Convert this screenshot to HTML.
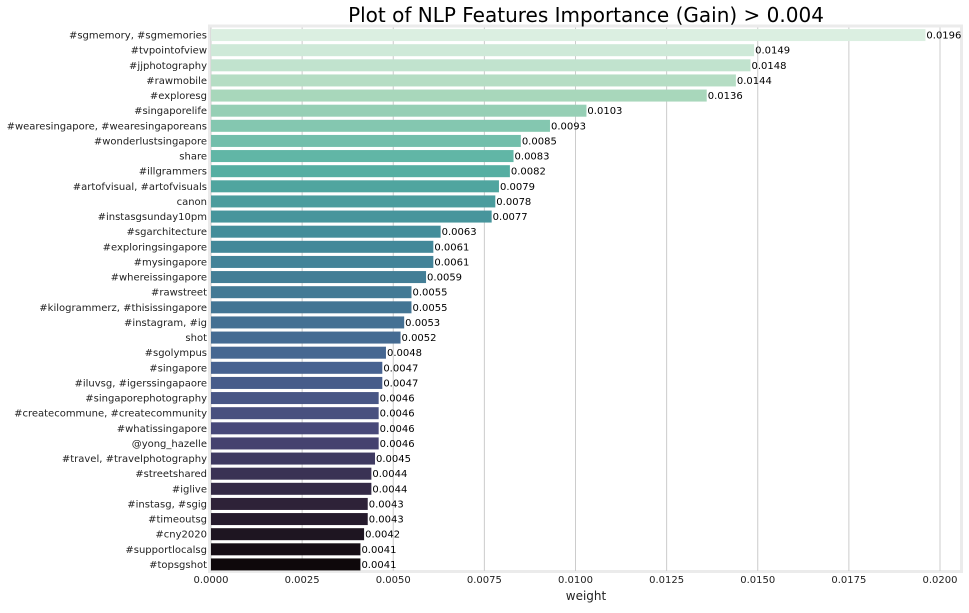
<!DOCTYPE html>
<html><head><meta charset="utf-8"><style>
body{margin:0;background:#fff;width:969px;height:609px;overflow:hidden;font-family:"DejaVu Sans","Liberation Sans",sans-serif}
</style></head><body>
<svg id="chart" width="969" height="609" xmlns="http://www.w3.org/2000/svg" font-family="DejaVu Sans, Liberation Sans, sans-serif"></svg>
<script>
const categories=["#sgmemory, #sgmemories","#tvpointofview","#jjphotography","#rawmobile","#exploresg","#singaporelife","#wearesingapore, #wearesingaporeans","#wonderlustsingapore","share","#illgrammers","#artofvisual, #artofvisuals","canon","#instasgsunday10pm","#sgarchitecture","#exploringsingapore","#mysingapore","#whereissingapore","#rawstreet","#kilogrammerz, #thisissingapore","#instagram, #ig","shot","#sgolympus","#singapore","#iluvsg, #igerssingapaore","#singaporephotography","#createcommune, #createcommunity","#whatissingapore","@yong_hazelle","#travel, #travelphotography","#streetshared","#iglive","#instasg, #sgig","#timeoutsg","#cny2020","#supportlocalsg","#topsgshot"];
const values=[0.0196,0.0149,0.0148,0.0144,0.0136,0.0103,0.0093,0.0085,0.0083,0.0082,0.0079,0.0078,0.0077,0.0063,0.0061,0.0061,0.0059,0.0055,0.0055,0.0053,0.0052,0.0048,0.0047,0.0047,0.0046,0.0046,0.0046,0.0046,0.0045,0.0044,0.0044,0.0043,0.0043,0.0042,0.0041,0.0041];
const xTicks=[0,0.0025,0.005,0.0075,0.01,0.0125,0.015,0.0175,0.02];
const NS="http://www.w3.org/2000/svg",svg=document.getElementById('chart');
const L=211,T=27.5,R=962,B=572,band=(B-T)/categories.length;
const x=v=>L+v/0.02*729, y=i=>T+i*band;
function el(t,a,txt){const e=document.createElementNS(NS,t);for(const k in a)e.setAttribute(k,a[k]);if(txt!=null)e.textContent=txt;svg.appendChild(e);return e;}
const stops=[[0,[11,4,5]],[0.125,[46,30,60]],[0.25,[65,62,126]],[0.375,[59,95,156]],[0.5,[53,123,162]],[0.625,[52,151,169]],[0.75,[73,193,173]],[0.875,[160,223,185]],[1,[222,245,229]]];
function desat(rgb,s){let [r,g,b]=rgb.map(c=>c/255);const mx=Math.max(r,g,b),mn=Math.min(r,g,b),l=(mx+mn)/2;if(mx===mn)return rgb;const d=mx-mn;let sat=l>0.5?d/(2-mx-mn):d/(mx+mn);let h;if(mx===r)h=((g-b)/d+(g<b?6:0));else if(mx===g)h=(b-r)/d+2;else h=(r-g)/d+4;h/=6;sat*=s;const q=l<0.5?l*(1+sat):l+sat-l*sat,p=2*l-q;const f=t=>{if(t<0)t+=1;if(t>1)t-=1;if(t<1/6)return p+(q-p)*6*t;if(t<1/2)return q;if(t<2/3)return p+(q-p)*(2/3-t)*6;return p;};return [f(h+1/3),f(h),f(h-1/3)].map(c=>Math.round(c*255));}
function mako(t){for(let i=1;i<stops.length;i++){if(t<=stops[i][0]){const a=stops[i-1],b=stops[i],f=(t-a[0])/(b[0]-a[0]);return 'rgb('+desat(a[1].map((c,j)=>c+(b[1][j]-c)*f),0.75).join(',')+')';}}return 'rgb(222,245,229)';}
let e=el('rect',{x:L-1.5,y:T-1.5,width:R-L+1,height:B-T+1,fill:'#fff',stroke:'#ebebeb','stroke-width':3});

xTicks.forEach(v=>{
 let g=el('line',{x1:x(v),x2:x(v),y1:T,y2:B-1,stroke:'#cccccc','stroke-width':1});
 
 let t=el('text',{x:x(v),y:583,'font-size':10,'text-anchor':'middle',fill:'#222'},v.toFixed(4));
 
});
const n=categories.length;
categories.forEach((c,i)=>{
 const yc=y(i)+band/2;
 let r=el('rect',{x:L,y:yc-6,width:x(values[i])-L,height:12,fill:mako(1-(i+0.5)/n)});
 
 let lb=el('text',{x:x(values[i])+1,y:yc+3.5,'font-size':10,fill:'#000'},values[i].toFixed(4));
 
 let cl=el('text',{x:207,y:yc+3.5,'font-size':10,'text-anchor':'end',fill:'#222'},c);
 
});
e=el('text',{x:586,y:22,'font-size':20,'text-anchor':'middle',fill:'#000'},'Plot of NLP Features Importance (Gain) > 0.004');

e=el('text',{x:586,y:600,'font-size':12,'text-anchor':'middle',fill:'#222'},'weight');

</script>
</body></html>
